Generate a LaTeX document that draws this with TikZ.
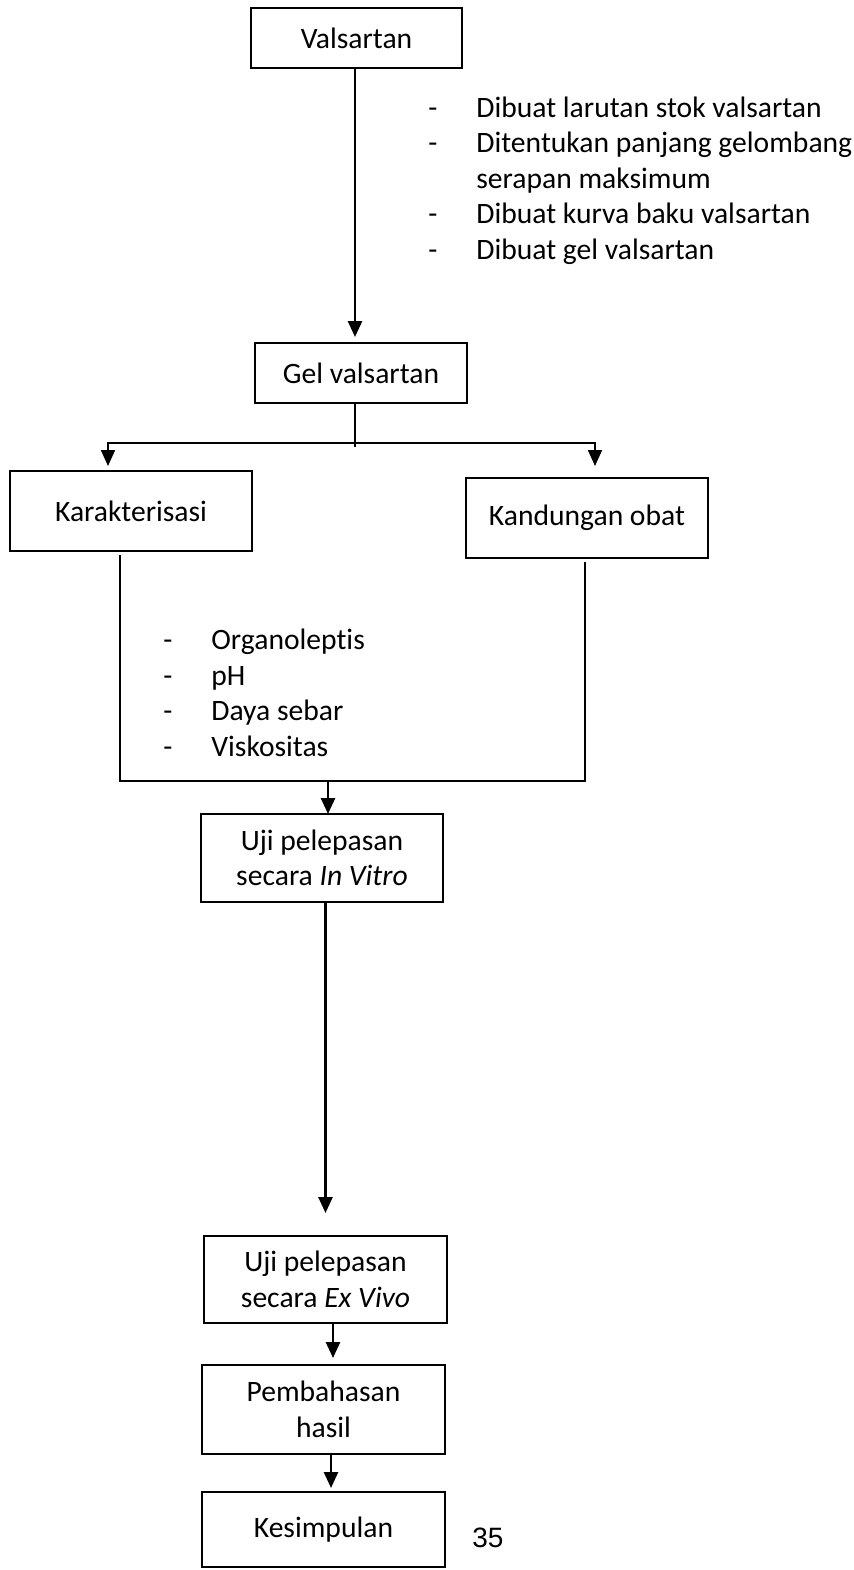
\documentclass[tikz,border=0pt]{standalone}
\usepackage{fontspec}
\setmainfont{Carlito}[Ligatures=NoCommon]
\newfontfamily\pagefont{Liberation Sans}
\usetikzlibrary{arrows.meta,positioning}

\newcommand{\dashitem}[1]{\makebox[24pt][l]{-}#1}

\begin{document}
\begin{tikzpicture}[
    x=0.5pt, y=-0.5pt,
    font=\fontsize{14.8}{17.75}\selectfont,
    block/.style={rectangle, draw, line width=1.4pt, align=center, inner sep=0pt, outer sep=0pt},
    list/.style={align=left, inner sep=0pt, anchor=base west},
    line/.style={line width=1.3pt},
    thinline/.style={line width=0.7pt},
    arrow/.style={line width=1.3pt,-{Triangle[width=7pt,length=8pt]}},
    thinarrow/.style={line width=0.8pt,-{Triangle[width=7pt,length=8pt]}}
]
\useasboundingbox (0,0) rectangle (854,1570);

% Define boxes from top to bottom
\node [block, minimum width=105.5pt, minimum height=30pt] (valsartan) at (356.5,38) {Valsartan};
\node [block, minimum width=106pt, minimum height=30pt] (gel) at (361,373) {Gel valsartan};
\node [block, minimum width=121pt, minimum height=40pt] (karakter) at (131,511) {Karakterisasi};
\node [block, minimum width=121pt, minimum height=40pt] (kandungan) at (587,518) {Kandungan obat};
\node [block, minimum width=121pt, minimum height=44pt] (invitro) at (322,858) {Uji pelepasan\\secara \textit{In Vitro}};
\node [block, minimum width=121.5pt, minimum height=43.5pt] (exvivo) at (325.5,1279.5) {Uji pelepasan\\secara \textit{Ex Vivo}};
\node [block, minimum width=121.5pt, minimum height=44.5pt] (bahas) at (323.5,1409.5) {Pembahasan\\hasil};
\node [block, minimum width=121.5pt, minimum height=37.5pt] (simpul) at (323.5,1529.5) {Kesimpulan};

% Steps written beside the arrows (anchored at the last line)
\node [list] (prep) at (428,259) {\dashitem{Dibuat larutan stok valsartan}\\
    \dashitem{Ditentukan panjang gelombang}\\
    \hspace*{24pt}serapan maksimum\\
    \dashitem{Dibuat kurva baku valsartan}\\
    \dashitem{Dibuat gel valsartan}};
\node [list] (uji) at (163,756) {\dashitem{Organoleptis}\\
    \dashitem{pH}\\
    \dashitem{Daya sebar}\\
    \dashitem{Viskositas}};

% Page number
\node [font=\pagefont\fontsize{14}{16}\selectfont, anchor=base] (page) at (488,1547) {35};

% Draw arrows
\draw [arrow, shorten >=3pt] ([xshift=-0.75pt]valsartan.south) -- ([xshift=-0.75pt]valsartan.south |- gel.north);

\coordinate (split) at (355,443);
\draw [thinline] (split |- gel.south) -- ([yshift=-2pt]split);
\draw [thinarrow, shorten >=2.5pt] (split) -| ([xshift=-11.5pt]karakter.north);
\draw [thinarrow, shorten >=6pt] (split) -| ([xshift=4pt]kandungan.north);

\coordinate (merge) at (328,781);
\draw [line] ([xshift=-5.5pt,yshift=-2pt]karakter.south) |- (merge) -| ([xshift=-1pt,yshift=-2pt]kandungan.south);
\draw [arrow] (merge) -- (merge |- invitro.north);

\draw [arrow, shorten >=11.5pt] (invitro.south -| exvivo.north) -- (exvivo.north);
\draw [arrow, shorten >=3.5pt] ([xshift=3.75pt]exvivo.south) -- ([xshift=3.75pt]exvivo.south |- bahas.north);
\draw [arrow, shorten >=2pt] ([xshift=3.75pt]bahas.south) -- ([xshift=3.75pt]bahas.south |- simpul.north);

\end{tikzpicture}
\end{document}
